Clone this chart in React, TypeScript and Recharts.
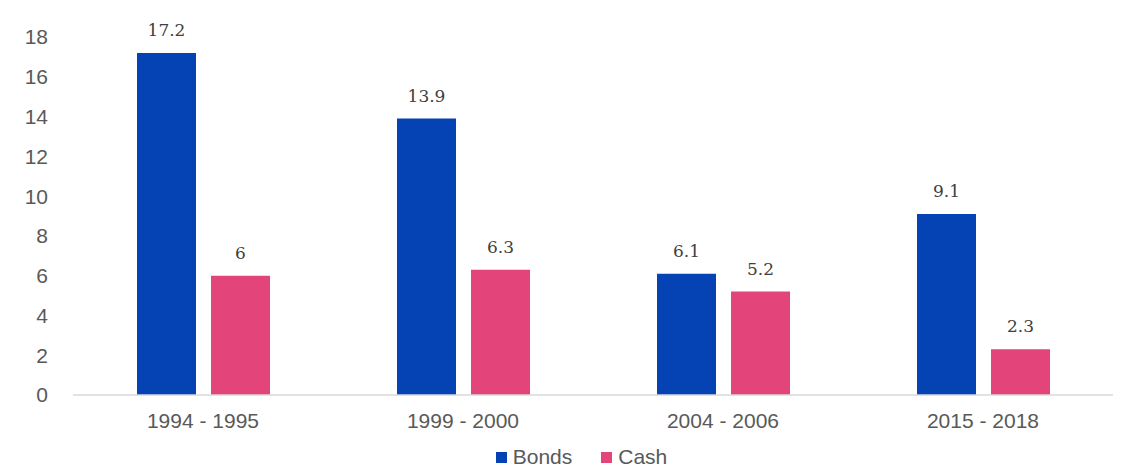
import { BarChart, Bar, XAxis, YAxis, Legend, LabelList } from 'recharts';

const periods = ['1994 - 1995', '1999 - 2000', '2004 - 2006', '2015 - 2018'];
const bonds = [17.2, 13.9, 6.1, 9.1];
const cash = [6, 6.3, 5.2, 2.3];
const yTicks = [0, 2, 4, 6, 8, 10, 12, 14, 16, 18];

const BLUE = '#0543B5';
const PINK = '#E3457B';
const TEXT = '#595959';
const SANS = '"Liberation Sans", Arial, sans-serif';

const data = periods.map((period, i) => ({ period, Bonds: bonds[i], Cash: cash[i] }));

function LegendBox() {
  const items = [
    { name: 'Bonds', color: BLUE },
    { name: 'Cash', color: PINK },
  ];
  return (
    <div style={{ display: 'flex', justifyContent: 'center', gap: 29, paddingLeft: 50, fontFamily: SANS, fontSize: 21, color: TEXT, lineHeight: '20px', height: 20 }}>
      {items.map((it) => (
        <span key={it.name} style={{ display: 'inline-flex', alignItems: 'center' }}>
          <span style={{ width: 11, height: 11, background: it.color, marginRight: 6, display: 'inline-block' }} />
          {it.name}
        </span>
      ))}
    </div>
  );
}

export default function App() {
  return (
    <div style={{ position: 'absolute', left: 0, top: 0, width: 1130, height: 467, background: '#fff', overflow: 'hidden' }}>
      <BarChart
        width={1130}
        height={467}
        data={data}
        margin={{ top: 37, right: 17, left: 0, bottom: 0 }}
        barGap={15}
        barSize={59}
      >
        <XAxis
          dataKey="period"
          axisLine={{ stroke: '#d9d9d9', strokeWidth: 1.5 }}
          tickLine={false}
          height={52}
          tickMargin={12}
          tick={{ fill: TEXT, fontSize: 21, fontFamily: SANS }}
        />
        <YAxis
          width={73}
          domain={[0, 18]}
          ticks={yTicks}
          axisLine={false}
          tickLine={false}
          tickSize={0}
          tickMargin={25}
          tick={{ fill: TEXT, fontSize: 21, fontFamily: SANS }}
        />
        <Legend verticalAlign="bottom" content={<LegendBox />} wrapperStyle={{ bottom: 0 }} />
        <Bar dataKey="Bonds" fill={BLUE} isAnimationActive={false}>
          <LabelList dataKey="Bonds" position="top" offset={17} fill="#404040" fontSize={17} fontFamily='"DejaVu Serif", serif' />
        </Bar>
        <Bar dataKey="Cash" fill={PINK} isAnimationActive={false}>
          <LabelList dataKey="Cash" position="top" offset={17} fill="#404040" fontSize={17} fontFamily='"DejaVu Serif", serif' />
        </Bar>
      </BarChart>
    </div>
  );
}
